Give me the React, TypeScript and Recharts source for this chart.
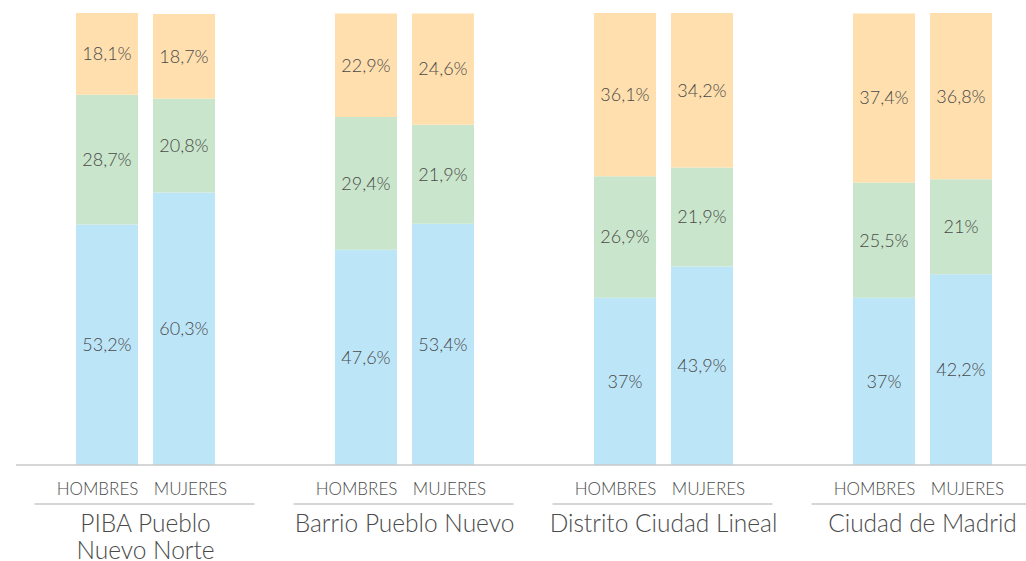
import { BarChart, Bar, XAxis, YAxis, LabelList } from 'recharts';

const groups = ['PIBA Pueblo\nNuevo Norte', 'Barrio Pueblo Nuevo', 'Distrito Ciudad Lineal', 'Ciudad de Madrid'];
const subLabels = ['HOMBRES', 'MUJERES'];

const hombresAzul = [53.2, 47.6, 37, 37];
const hombresVerde = [28.7, 29.4, 26.9, 25.5];
const hombresNaranja = [18.1, 22.9, 36.1, 37.4];

const mujeresAzul = [60.3, 53.4, 43.9, 42.2];
const mujeresVerde = [20.8, 21.9, 21.9, 21];
const mujeresNaranja = [18.7, 24.6, 34.2, 36.8];

const COLORS = {
  azul: '#BDE5F8',
  verde: '#C9E5CB',
  naranja: '#FFDFAE',
};

const FONT = 'Lato, "Open Sans", sans-serif';
const TEXT = '#4a4a4a';

const chartData = groups.map((g, i) => ({
  group: g,
  hAzul: hombresAzul[i],
  hVerde: hombresVerde[i],
  hNaranja: hombresNaranja[i],
  mAzul: mujeresAzul[i],
  mVerde: mujeresVerde[i],
  mNaranja: mujeresNaranja[i],
}));

const fmt = (v: any) => `${String(v).replace('.', ',')}%`;

function GroupTick(props: any) {
  const { x, y, payload } = props;
  const lines = String(payload.value).split('\n');
  const top = y - 8; // axis line position
  return (
    <g>
      <text x={x - 48} y={top + 30} textAnchor="middle" fontSize={17} fontWeight={300} fill={TEXT} fontFamily={FONT}>
        {subLabels[0]}
      </text>
      <text x={x + 45} y={top + 30} textAnchor="middle" fontSize={17} fontWeight={300} fill={TEXT} fontFamily={FONT}>
        {subLabels[1]}
      </text>
      <line x1={x - 111} x2={x + 109} y1={top + 39} y2={top + 39} stroke="#c8c8c8" strokeWidth={1.5} />
      {lines.map((l, i) => (
        <text key={i} x={x} y={top + 67 + i * 27} textAnchor="middle" fontSize={24.5} fontWeight={300} fill={TEXT} fontFamily={FONT}>
          {l}
        </text>
      ))}
    </g>
  );
}

const segLabel = (key: string) => (
  <LabelList dataKey={key} position="center" formatter={fmt} fill={TEXT} fontSize={18} fontWeight={300} fontFamily={FONT} />
);

export default function App() {
  return (
    <div style={{ position: 'absolute', left: 0, top: 0, width: 1026, height: 561, overflow: 'hidden', background: '#fff' }}>
      <BarChart
        width={1060}
        height={561}
        data={chartData}
        margin={{ top: 13, right: 8, bottom: 0, left: 16 }}
        barSize={62}
        barGap={15}
      >
        <XAxis
          dataKey="group"
          height={96}
          tickLine={false}
          axisLine={{ stroke: '#c8c8c8', strokeWidth: 1.5 }}
          interval={0}
          tick={<GroupTick />}
        />
        <YAxis hide domain={[0, 100]} />
        <Bar dataKey="hAzul" stackId="h" fill={COLORS.azul} isAnimationActive={false}>{segLabel('hAzul')}</Bar>
        <Bar dataKey="hVerde" stackId="h" fill={COLORS.verde} isAnimationActive={false}>{segLabel('hVerde')}</Bar>
        <Bar dataKey="hNaranja" stackId="h" fill={COLORS.naranja} isAnimationActive={false}>{segLabel('hNaranja')}</Bar>
        <Bar dataKey="mAzul" stackId="m" fill={COLORS.azul} isAnimationActive={false}>{segLabel('mAzul')}</Bar>
        <Bar dataKey="mVerde" stackId="m" fill={COLORS.verde} isAnimationActive={false}>{segLabel('mVerde')}</Bar>
        <Bar dataKey="mNaranja" stackId="m" fill={COLORS.naranja} isAnimationActive={false}>{segLabel('mNaranja')}</Bar>
      </BarChart>
    </div>
  );
}
